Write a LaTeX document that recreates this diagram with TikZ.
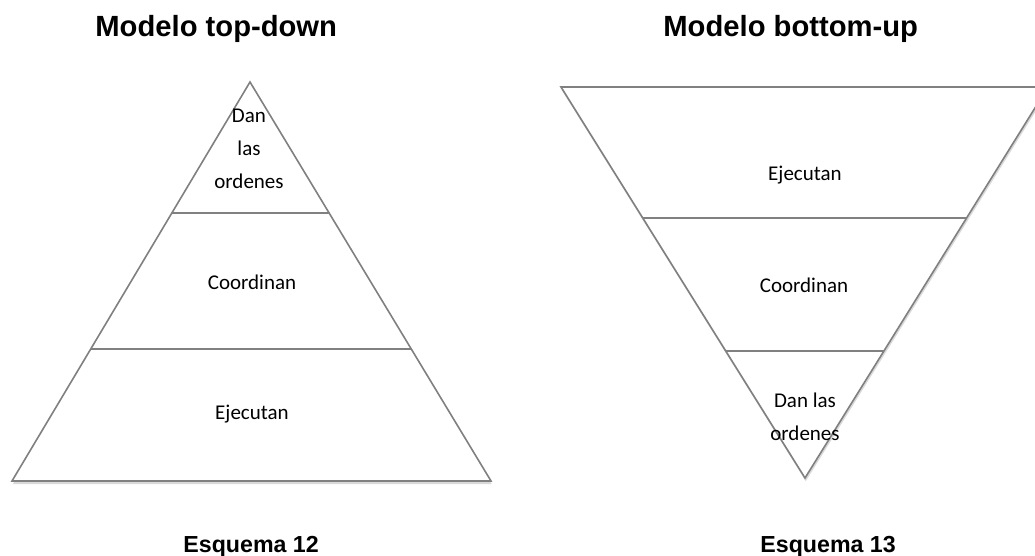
\documentclass[tikz,border=0pt]{standalone}
\usepackage{fontspec}
\setmainfont{Liberation Sans}
\newfontfamily\bodyfont{Carlito}
\usetikzlibrary{calc,shadows}
\definecolor{edgegray}{RGB}{128,128,128}
\tikzset{
    tier/.style    = {draw=edgegray, line width=0.8pt, fill=white, line join=miter,
                      drop shadow={shadow xshift=0.4pt, shadow yshift=-1.6pt, opacity=0.15, fill=black}},
    divider/.style = {draw=edgegray, line width=0.8pt},
    lvltext/.style = {align=center, inner sep=0pt, font=\bodyfont\fontsize{10.5}{16.5}\selectfont},
    heading/.style = {inner sep=0pt, font=\bfseries\fontsize{14.6}{17}\selectfont},
    caption/.style = {inner sep=0pt, font=\bfseries\fontsize{11.6}{14}\selectfont}
}

\begin{document}
\begin{tikzpicture}[x=0.5pt, y=-0.5pt]
        \useasboundingbox (0,0) rectangle (1035,556);
        \clip (0,0) rectangle (1035,556);

        % Corners of both triangles
        \coordinate (tdApex) at (250,82);
        \coordinate (tdLeft) at (12,481);
        \coordinate (tdRight) at (491,481);
        \coordinate (buApex) at (805,478);
        \coordinate (buLeft) at (561,87);
        \coordinate (buRight) at (1048,87);

        % Top-down pyramid
        \path[tier] (tdApex) -- (tdRight) -- (tdLeft) -- cycle;
        \draw[divider] ($(tdApex)!0.328!(tdLeft)$) -- ($(tdApex)!0.328!(tdRight)$);
        \draw[divider] ($(tdApex)!0.669!(tdLeft)$) -- ($(tdApex)!0.669!(tdRight)$);

        % Bottom-up pyramid
        \path[tier] (buLeft) -- (buRight) -- (buApex) -- cycle;
        \draw[divider] ($(buApex)!0.665!(buLeft)$) -- ($(buApex)!0.665!(buRight)$);
        \draw[divider] ($(buApex)!0.325!(buLeft)$) -- ($(buApex)!0.325!(buRight)$);

        % Level texts
        \node[lvltext] (tdOrders) at (249,149) {Dan\\las\\ordenes};
        \node[lvltext] (tdCoord) at (252,282) {Coordinan};
        \node[lvltext] (tdExec) at (252,414) {Ejecutan};
        \node[lvltext] (buExec) at (805,175) {Ejecutan};
        \node[lvltext] (buCoord) at (804,285) {Coordinan};
        \node[lvltext] (buOrders) at (805,417) {Dan las\\ordenes};

        % Titles and captions
        \node[heading, anchor=base west] (tdTitle) at (95,37) {Modelo top-down};
        \node[heading, anchor=base west] (buTitle) at (663,37) {Modelo bottom-up};
        \node[caption, anchor=base west] (tdCaption) at (183,552) {Esquema 12};
        \node[caption, anchor=base west] (buCaption) at (760,552) {Esquema 13};

    \end{tikzpicture}
\end{document}
